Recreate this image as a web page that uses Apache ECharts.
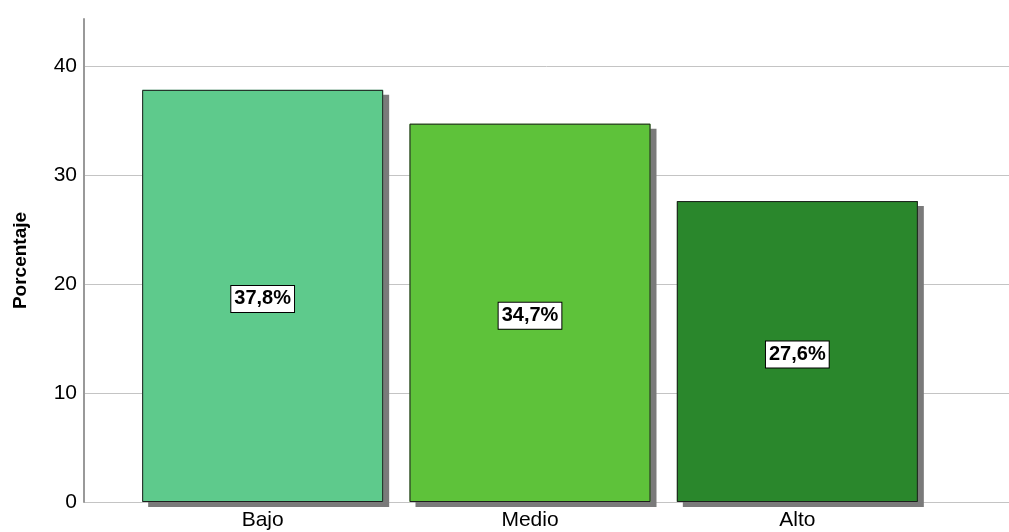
<!DOCTYPE html>
<html>
<head>
<meta charset="utf-8">
<script src="https://cdn.jsdelivr.net/npm/echarts@6/dist/echarts.min.js"></script>
<style>
  html, body { margin: 0; padding: 0; background: #fff; }
  #chart { width: 1009px; height: 532px; }
</style>
</head>
<body>
<div id="chart"></div>
<script>
'use strict';

var categories = ['Bajo', 'Medio', 'Alto'];
var percentages = [37.8, 34.7, 27.6];
var barColors = ['#5eca8c', '#5ec23a', '#2a872c'];
var yTicks = [0, 10, 20, 30, 40];

var font = '"Liberation Sans", Arial, sans-serif';
var yMax = 44.3;

var chart = echarts.init(document.getElementById('chart'));

var option = {
    animation: false,
    backgroundColor: '#fff',
    grid: [
        // frame: value axis + gridlines
        { left: 84, right: 0, top: 19, bottom: 30 },
        // bars
        { left: 129, right: 78, top: 19, bottom: 30 }
    ],
    xAxis: [
        { gridIndex: 0, type: 'value', min: 0, max: 1, show: false },
        {
            gridIndex: 1,
            type: 'category',
            data: categories,
            axisLine: { show: false },
            axisTick: { show: false },
            axisLabel: { color: '#000', fontFamily: font, fontSize: 21, margin: 8 }
        }
    ],
    yAxis: [
        {
            gridIndex: 0,
            type: 'value',
            min: 0,
            max: yMax,
            interval: 10,
            name: 'Porcentaje',
            nameLocation: 'middle',
            nameGap: 54,
            nameTextStyle: { color: '#000', fontFamily: font, fontSize: 19, fontWeight: 'bold' },
            axisLine: { show: true, lineStyle: { color: '#999', width: 2 } },
            axisTick: { show: false },
            axisLabel: {
                color: '#000', fontFamily: font, fontSize: 21, margin: 7,
                formatter: function (v) { return yTicks.indexOf(v) >= 0 ? String(v) : ''; }
            },
            splitLine: { show: false }
        },
        { gridIndex: 1, type: 'value', min: 0, max: yMax, show: false }
    ],
    series: [
        {
            // gridlines at the tick values, kept behind the bars
            type: 'line',
            xAxisIndex: 0,
            yAxisIndex: 0,
            data: [],
            silent: true,
            z: 0,
            markLine: {
                silent: true,
                z: 0,
                symbol: 'none',
                label: { show: false },
                lineStyle: { color: '#c4c4c4', width: 1, type: 'solid' },
                data: yTicks.map(function (t) { return { yAxis: t }; })
            }
        },
        {
            // filled bars with drop shadow
            type: 'bar',
            xAxisIndex: 1,
            yAxisIndex: 1,
            barWidth: 241,
            z: 10,
            data: percentages.map(function (v, i) {
                return { value: v, itemStyle: { color: barColors[i] } };
            }),
            itemStyle: {
                borderWidth: 0,
                shadowColor: '#7a7a7a',
                shadowBlur: 0,
                shadowOffsetX: 6,
                shadowOffsetY: 5
            }
        },
        {
            // outline + value label
            type: 'bar',
            xAxisIndex: 1,
            yAxisIndex: 1,
            barWidth: 241,
            barGap: '-100%',
            z: 11,
            data: percentages,
            itemStyle: {
                color: 'rgba(0,0,0,0)',
                borderColor: '#1e1e1e',
                borderWidth: 1
            },
            label: {
                show: true,
                position: 'inside',
                offset: [0, 3],
                formatter: function (p) { return p.value.toFixed(1).replace('.', ',') + '%'; },
                color: '#000',
                fontFamily: font,
                fontSize: 20,
                fontWeight: 'bold',
                backgroundColor: '#fff',
                borderColor: '#000',
                borderWidth: 1,
                padding: [4, 3, 2, 3]
            }
        }
    ]
};

chart.setOption(option);
</script>
</body>
</html>
